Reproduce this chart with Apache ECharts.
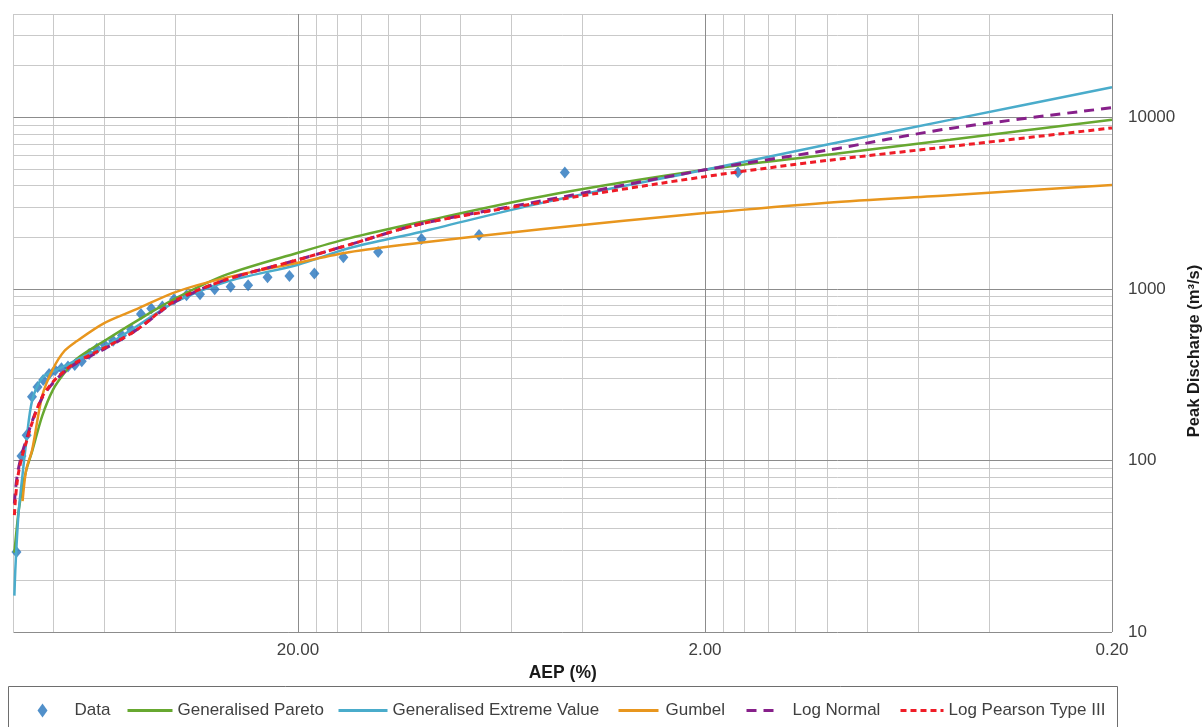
<!DOCTYPE html>
<html lang="en">
<head>
    <meta charset="UTF-8">
    <title>Flood Frequency - AEP vs Peak Discharge</title>
    <script src="https://cdn.jsdelivr.net/npm/echarts@6.0.0/dist/echarts.min.js"></script>
    <style>
        html, body { margin: 0; padding: 0; background: #fff; }
        #main { width: 1204px; height: 727px; }
    </style>
</head>
<body>
    <div id="main"></div>

    <script>
        // observed annual peaks (plotting position AEP %, discharge m3/s)
        var dataAep = [1.66, 4.42, 7.18, 9.94, 12.71, 15.47, 18.23, 20.99, 23.76, 26.52, 29.28, 32.04,
            34.81, 37.57, 40.33, 43.09, 45.86, 48.62, 51.38, 54.14, 56.91, 59.67, 62.43, 65.19,
            67.96, 70.72, 73.48, 76.24, 79.01, 81.77, 84.53, 87.29, 90.06, 92.82, 95.58, 98.34];
        var dataPeak = [4780, 4760, 2060, 1950, 1640, 1530, 1230, 1190, 1170, 1050, 1030, 995,
            930, 918, 871, 790, 769, 713, 579, 534, 498, 470, 448, 417,
            379, 360, 353, 345, 336, 319, 294, 268, 235, 140, 106, 29.3];

        // fitted distributions, read at these AEPs
        var curveAep = [99.5, 99, 98, 97, 95, 93, 90, 85, 80, 75, 70, 60, 50, 40, 30, 20, 15, 10, 5, 2, 1, 0.5, 0.2];
        var genPareto = [29, 33, 42, 52, 70, 88, 113, 182, 258, 323, 390, 495, 647, 879, 1210, 1623, 1969, 2453, 3469, 4940, 6057, 7408, 9685];
        var genExtreme = [16.3, 22.8, 36.3, 52, 83, 129, 223, 303, 330, 355, 385, 460, 601, 839, 1100, 1383, 1723, 2147, 3181, 4940, 6940, 9660, 14980];
        var gumbel = [null, null, null, null, 58, 89, 115, 238, 341, 434, 495, 630, 759, 958, 1163, 1420, 1634, 1854, 2235, 2765, 3181, 3516, 4034];
        var logNormal = [56, 66, 80, 92, 113, 132, 169, 232, 283, 328, 369, 445, 573, 844, 1132, 1478, 1805, 2388, 3267, 4940, 6432, 8612, 11370];
        var logPearson3 = [48, 58, 74, 87, 108, 128, 166, 235, 287, 332, 374, 451, 573, 855, 1132, 1478, 1805, 2388, 3202, 4511, 5606, 6757, 8670];

        // axis ticks / gridlines
        var xLabels = [20, 2, 0.2];
        var xMajor = [0.2, 2, 20];
        var xMinor = [0.4, 0.6, 0.8, 1, 1.2, 1.4, 1.6, 1.8, 4, 6, 8, 10, 12, 14, 16, 18, 40, 60, 80, 100];
        var yMajor = [10, 100, 1000, 10000];
        var yMinor = [20, 30, 40, 50, 60, 70, 80, 90, 200, 300, 400, 500, 600, 700, 800, 900,
            2000, 3000, 4000, 5000, 6000, 7000, 8000, 9000, 20000, 30000, 40000];

        var FONT = 'Liberation Sans';

        function pairs(xs, ys) {
            var out = [];
            for (var i = 0; i < xs.length; i++) {
                if (ys[i] != null) out.push([xs[i], ys[i]]);
            }
            return out;
        }

        var gridLines = [];
        xMinor.forEach(function (v) { gridLines.push({ xAxis: v, lineStyle: { color: '#c9c9c9', width: 1, type: 'solid' } }); });
        yMinor.forEach(function (v) { gridLines.push({ yAxis: v, lineStyle: { color: '#c9c9c9', width: 1, type: 'solid' } }); });
        xMajor.forEach(function (v) { gridLines.push({ xAxis: v, lineStyle: { color: '#8c8c8c', width: 1, type: 'solid' } }); });
        yMajor.forEach(function (v) { gridLines.push({ yAxis: v, lineStyle: { color: '#8c8c8c', width: 1, type: 'solid' } }); });

        function curve(name, ys, color, width, dash) {
            return {
                name: name,
                type: 'line',
                data: pairs(curveAep, ys),
                smooth: 0.3,
                symbol: 'none',
                showSymbol: false,
                lineStyle: { color: color, width: width, type: dash || 'solid' },
                itemStyle: { color: color },
                animation: false
            };
        }

        function legendItem(name, left, w, pad, isLine) {
            var l = {
                data: [name],
                left: left,
                top: 702,
                padding: 0,
                itemWidth: w,
                itemHeight: 14,
                itemGap: 0,
                selectedMode: false,
                textStyle: { fontFamily: FONT, fontSize: 17, color: '#404040', padding: [0, 0, 0, pad] }
            };
            // line entries: show only the stroke, no marker
            if (isLine) {
                l.itemStyle = { opacity: 0 };
                l.lineStyle = { width: 3 };
            }
            return l;
        }

        var myChart = echarts.init(document.getElementById('main'));

        var option = {
            backgroundColor: '#ffffff',
            animation: false,
            grid: { left: 13.5, right: 92, top: 14, bottom: 95, outerBoundsMode: 'none' },
            graphic: [{
                type: 'rect',
                shape: { x: 8.5, y: 686.5, width: 1109, height: 50 },
                style: { fill: 'none', stroke: '#6e6e6e', lineWidth: 1 },
                silent: true
            }],
            legend: [
                legendItem('Data', 37.5, 10, 22, false),
                legendItem('Generalised Pareto', 126, 45, 0, true),
                legendItem('Generalised Extreme Value', 337, 49, 0, true),
                legendItem('Gumbel', 617, 40, 2, true),
                legendItem('Log Normal', 745, 34, 7, true),
                legendItem('Log Pearson Type III', 899, 43, 0, true)
            ],
            xAxis: {
                type: 'log',
                logBase: 10,
                min: 0.2,
                max: 100,
                inverse: true,
                name: 'AEP (%)',
                nameLocation: 'middle',
                nameGap: 24,
                nameTextStyle: { fontFamily: FONT, fontSize: 17.5, fontWeight: 'bold', color: '#1a1a1a', verticalAlign: 'top' },
                axisLine: { show: false },
                axisTick: { show: false },
                splitLine: { show: false },
                axisLabel: {
                    customValues: xLabels,
                    margin: 10,
                    fontFamily: FONT,
                    fontSize: 17,
                    color: '#404040',
                    formatter: function (v) { return Number(v).toFixed(2); }
                }
            },
            yAxis: {
                type: 'log',
                logBase: 10,
                min: 10,
                max: 40000,
                position: 'right',
                name: 'Peak Discharge (m³/s)',
                nameLocation: 'middle',
                nameRotate: 90,
                nameGap: 70,
                nameTextStyle: { fontFamily: FONT, fontSize: 16.5, fontWeight: 'bold', color: '#1a1a1a', padding: [0, 56, 0, 0] },
                axisLine: { show: false },
                axisTick: { show: false },
                splitLine: { show: false },
                axisLabel: {
                    showMaxLabel: false,
                    margin: 16,
                    fontFamily: FONT,
                    fontSize: 17,
                    color: '#404040',
                    formatter: function (v) { return String(Math.round(v)); }
                }
            },
            series: [
                {
                    name: 'gridlines',
                    type: 'line',
                    data: [],
                    z: 0,
                    markLine: {
                        silent: true,
                        z: 0,
                        symbol: ['none', 'none'],
                        label: { show: false },
                        animation: false,
                        data: gridLines
                    }
                },
                {
                    name: 'Data',
                    type: 'scatter',
                    data: pairs(dataAep, dataPeak),
                    symbol: 'diamond',
                    symbolSize: [10, 12],
                    itemStyle: { color: '#2674bd' },
                    animation: false
                },
                curve('Generalised Pareto', genPareto, '#67a830', 2.5),
                curve('Generalised Extreme Value', genExtreme, '#4aaccb', 2.5),
                curve('Gumbel', gumbel, '#e8961e', 2.5),
                curve('Log Normal', logNormal, '#87208a', 3, [10, 7]),
                curve('Log Pearson Type III', logPearson3, '#ef1c27', 3, [6, 4])
            ]
        };

        myChart.setOption(option);
    </script>
</body>
</html>
